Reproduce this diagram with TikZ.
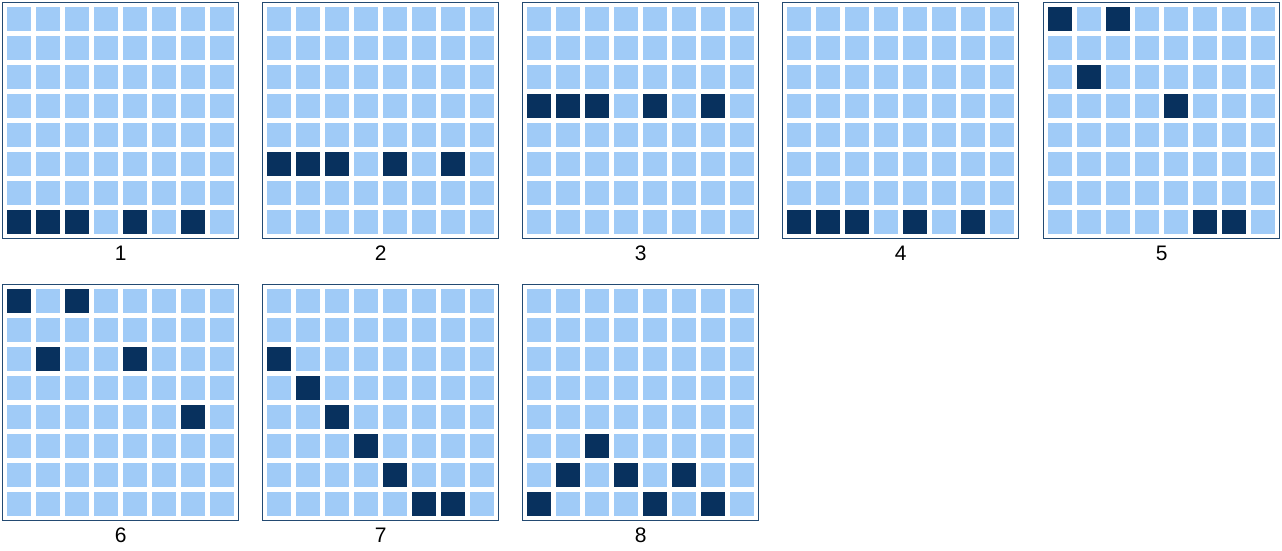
\documentclass[tikz,border=0pt]{standalone}
\usepackage{fontspec}
\setmainfont{Liberation Sans}
\usetikzlibrary{positioning}
\definecolor{cellbg}{HTML}{A0CBF7}
\definecolor{cellon}{HTML}{08315E}
\definecolor{gridframe}{HTML}{234A72}

\begin{document}
\begin{tikzpicture}[x=1pt, y=-1pt,
  panel/.style={draw=gridframe, line width=1.4pt, fill=white, inner sep=0pt,
                minimum width=236pt, minimum height=236pt, anchor=north west},
  cell/.style={fill=cellbg},
  oncell/.style={fill=cellon},
  tag/.style={inner sep=0pt, font=\fontsize{21}{21}\selectfont}
]
  \useasboundingbox (0,0) rectangle (1282,551);

  % panel number / left / top / dark cells (column/row, from top left)
  \foreach \k/\px/\py/\on in {
      1/2/2/{0/7,1/7,2/7,4/7,6/7},
      2/262/2/{0/5,1/5,2/5,4/5,6/5},
      3/522/2/{0/3,1/3,2/3,4/3,6/3},
      4/782/2/{0/7,1/7,2/7,4/7,6/7},
      5/1043/2/{0/0,2/0,1/2,4/3,5/7,6/7},
      6/2/284/{0/0,2/0,1/2,4/2,6/4},
      7/262/284/{0/2,1/3,2/4,3/5,4/6,5/7,6/7},
      8/522/284/{2/5,1/6,3/6,5/6,0/7,4/7,6/7}} {
    \node[panel] (p\k) at (\px,\py) {};
    \foreach \c in {0,...,7}
      \foreach \r in {0,...,7}
        \fill[cell] (\px+5+29*\c,\py+5+29*\r) rectangle ++(24,24);
    \foreach \c/\r in \on
      \fill[oncell] (\px+5+29*\c,\py+5+29*\r) rectangle ++(24,24);
    \node[tag, below=6pt of p\k] (l\k) {\k};
  }
\end{tikzpicture}
\end{document}
